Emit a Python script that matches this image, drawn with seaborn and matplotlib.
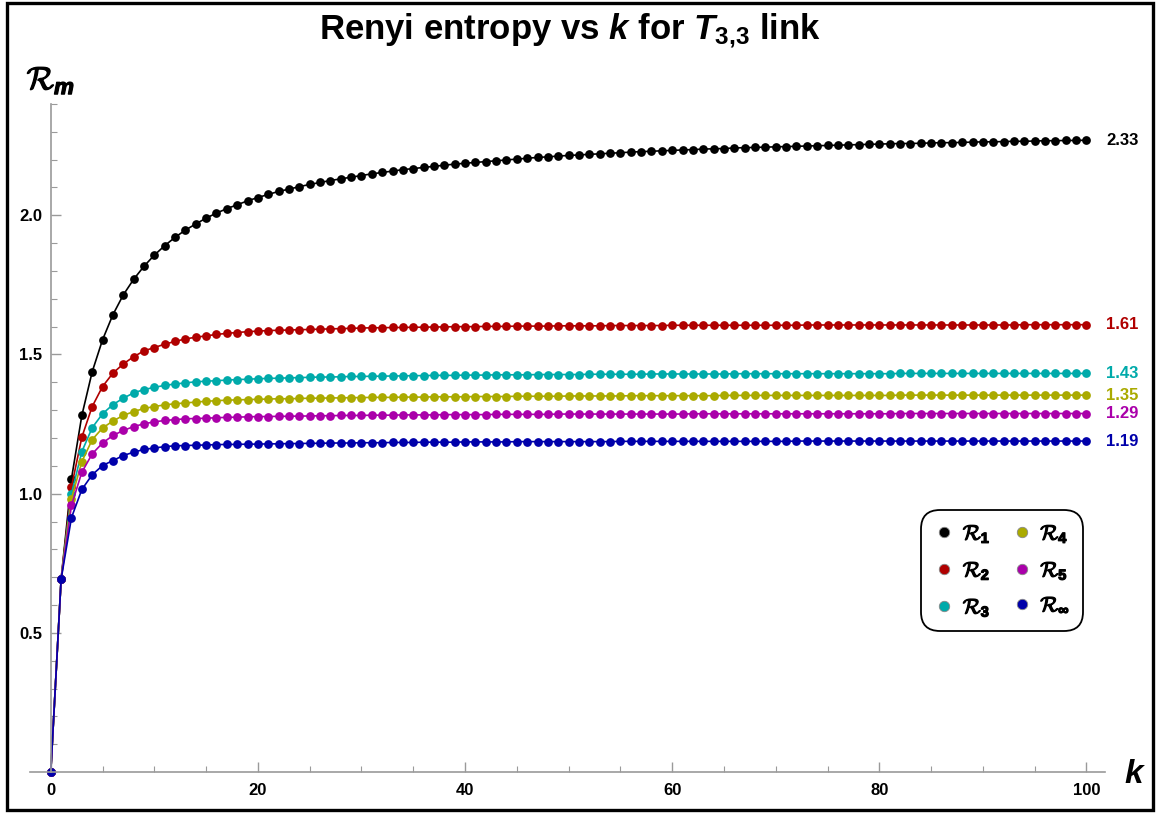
import matplotlib
matplotlib.use('Agg')
import matplotlib.pyplot as plt
import matplotlib.patheffects as pe
import seaborn as sns
import pandas as pd
from matplotlib.lines import Line2D
from matplotlib.patches import Rectangle
from matplotlib.ticker import MultipleLocator

# values, k = 0..100
k_values = list(range(101))

r1 = [0.0, 0.693, 1.054, 1.281, 1.438, 1.553, 1.643, 1.714, 1.770, 1.817,
      1.857, 1.891, 1.921, 1.947, 1.969, 1.990, 2.008, 2.024, 2.038, 2.052,
      2.064, 2.075, 2.086, 2.094, 2.103, 2.111, 2.118, 2.125, 2.131, 2.137,
      2.143, 2.149, 2.154, 2.159, 2.164, 2.168, 2.172, 2.176, 2.180, 2.184,
      2.187, 2.190, 2.193, 2.196, 2.199, 2.202, 2.205, 2.208, 2.210, 2.213,
      2.215, 2.217, 2.219, 2.221, 2.223, 2.225, 2.227, 2.229, 2.230, 2.232,
      2.233, 2.235, 2.236, 2.238, 2.239, 2.240, 2.242, 2.243, 2.244, 2.245,
      2.246, 2.247, 2.248, 2.249, 2.250, 2.251, 2.252, 2.253, 2.254, 2.255,
      2.256, 2.257, 2.258, 2.258, 2.259, 2.260, 2.261, 2.261, 2.262, 2.263,
      2.264, 2.264, 2.265, 2.266, 2.266, 2.267, 2.268, 2.268, 2.269, 2.269,
      2.270]

r2 = [0.0, 0.693, 1.024, 1.203, 1.313, 1.385, 1.433, 1.466, 1.492, 1.513,
      1.525, 1.537, 1.547, 1.556, 1.562, 1.567, 1.572, 1.576, 1.579, 1.582,
      1.584, 1.586, 1.587, 1.588, 1.589, 1.590, 1.591, 1.592, 1.593, 1.594,
      1.595, 1.596, 1.596, 1.597, 1.597, 1.598, 1.598, 1.599, 1.599, 1.600,
      1.600, 1.600, 1.601, 1.601, 1.601, 1.602, 1.602, 1.602, 1.602, 1.603,
      1.603, 1.603, 1.603, 1.603, 1.604, 1.604, 1.604, 1.604, 1.604, 1.604,
      1.605, 1.605, 1.605, 1.605, 1.605, 1.605, 1.605, 1.605, 1.605, 1.605,
      1.605, 1.605, 1.605, 1.606, 1.606, 1.606, 1.606, 1.606, 1.606, 1.606,
      1.606, 1.606, 1.606, 1.606, 1.606, 1.606, 1.606, 1.606, 1.606, 1.606,
      1.606, 1.606, 1.606, 1.606, 1.607, 1.607, 1.607, 1.607, 1.607, 1.607,
      1.607]

r3 = [0.0, 0.693, 1.000, 1.151, 1.237, 1.287, 1.320, 1.343, 1.362, 1.374,
      1.382, 1.389, 1.394, 1.398, 1.402, 1.404, 1.406, 1.408, 1.410, 1.411,
      1.413, 1.414, 1.415, 1.416, 1.417, 1.418, 1.419, 1.419, 1.420, 1.421,
      1.421, 1.422, 1.422, 1.423, 1.423, 1.424, 1.424, 1.425, 1.425, 1.425,
      1.426, 1.426, 1.426, 1.427, 1.427, 1.427, 1.427, 1.428, 1.428, 1.428,
      1.428, 1.428, 1.429, 1.429, 1.429, 1.429, 1.429, 1.429, 1.430, 1.430,
      1.430, 1.430, 1.430, 1.430, 1.430, 1.430, 1.431, 1.431, 1.431, 1.431,
      1.431, 1.431, 1.431, 1.431, 1.431, 1.431, 1.431, 1.431, 1.431, 1.431,
      1.431, 1.431, 1.432, 1.432, 1.432, 1.432, 1.432, 1.432, 1.432, 1.432,
      1.432, 1.432, 1.432, 1.432, 1.432, 1.432, 1.432, 1.432, 1.432, 1.432,
      1.432]

r4 = [0.0, 0.693, 0.982, 1.115, 1.194, 1.236, 1.261, 1.281, 1.295, 1.306,
      1.313, 1.319, 1.323, 1.326, 1.329, 1.332, 1.334, 1.336, 1.337, 1.338,
      1.339, 1.340, 1.341, 1.341, 1.342, 1.343, 1.343, 1.344, 1.344, 1.345,
      1.345, 1.346, 1.346, 1.346, 1.347, 1.347, 1.347, 1.348, 1.348, 1.348,
      1.348, 1.349, 1.349, 1.349, 1.349, 1.350, 1.350, 1.350, 1.350, 1.350,
      1.351, 1.351, 1.351, 1.351, 1.351, 1.351, 1.352, 1.352, 1.352, 1.352,
      1.352, 1.352, 1.352, 1.352, 1.352, 1.353, 1.353, 1.353, 1.353, 1.353,
      1.353, 1.353, 1.353, 1.353, 1.353, 1.353, 1.353, 1.353, 1.353, 1.353,
      1.353, 1.353, 1.354, 1.354, 1.354, 1.354, 1.354, 1.354, 1.354, 1.354,
      1.354, 1.354, 1.354, 1.354, 1.354, 1.354, 1.354, 1.354, 1.354, 1.354,
      1.354]

r5 = [0.0, 0.693, 0.958, 1.077, 1.143, 1.182, 1.209, 1.227, 1.241, 1.251,
      1.258, 1.263, 1.266, 1.269, 1.270, 1.271, 1.273, 1.274, 1.275, 1.276,
      1.277, 1.277, 1.278, 1.278, 1.279, 1.279, 1.280, 1.280, 1.281, 1.281,
      1.281, 1.282, 1.282, 1.282, 1.283, 1.283, 1.283, 1.283, 1.284, 1.284,
      1.284, 1.284, 1.284, 1.285, 1.285, 1.285, 1.285, 1.285, 1.285, 1.286,
      1.286, 1.286, 1.286, 1.286, 1.286, 1.286, 1.286, 1.286, 1.286, 1.286,
      1.286, 1.286, 1.287, 1.287, 1.287, 1.287, 1.287, 1.287, 1.287, 1.287,
      1.287, 1.287, 1.287, 1.287, 1.287, 1.287, 1.287, 1.287, 1.287, 1.287,
      1.287, 1.287, 1.288, 1.288, 1.288, 1.288, 1.288, 1.288, 1.288, 1.288,
      1.288, 1.288, 1.288, 1.288, 1.288, 1.288, 1.288, 1.288, 1.288, 1.288,
      1.288]

r_inf = [0.0, 0.693, 0.914, 1.015, 1.068, 1.101, 1.119, 1.137, 1.149, 1.159,
         1.164, 1.169, 1.172, 1.173, 1.174, 1.175, 1.176, 1.177, 1.177, 1.178,
         1.178, 1.179, 1.179, 1.180, 1.180, 1.181, 1.181, 1.182, 1.182, 1.182,
         1.183, 1.183, 1.183, 1.184, 1.184, 1.184, 1.185, 1.185, 1.185, 1.185,
         1.186, 1.186, 1.186, 1.186, 1.186, 1.187, 1.187, 1.187, 1.187, 1.187,
         1.187, 1.187, 1.187, 1.187, 1.187, 1.188, 1.188, 1.188, 1.188, 1.188,
         1.188, 1.188, 1.188, 1.188, 1.188, 1.188, 1.188, 1.188, 1.188, 1.188,
         1.188, 1.188, 1.189, 1.189, 1.189, 1.189, 1.189, 1.189, 1.189, 1.189,
         1.189, 1.189, 1.189, 1.189, 1.189, 1.189, 1.189, 1.189, 1.189, 1.189,
         1.189, 1.189, 1.189, 1.189, 1.189, 1.189, 1.189, 1.189, 1.189, 1.189,
         1.189]

series_names = ['R1', 'R2', 'R3', 'R4', 'R5', 'Rinf']
legend_labels = [r'$\mathcal{R}_{1}$', r'$\mathcal{R}_{2}$', r'$\mathcal{R}_{3}$',
                 r'$\mathcal{R}_{4}$', r'$\mathcal{R}_{5}$', r'$\mathcal{R}_{\infty}$']
end_labels = ['2.33', '1.61', '1.43', '1.35', '1.29', '1.19']
colors = ['#000000', '#b00000', '#00aaaa', '#aaaa00', '#aa00aa', '#0000aa']

sns.set_style('white')
plt.rcParams['font.family'] = ['Liberation Sans', 'DejaVu Sans']
plt.rcParams['text.color'] = 'black'
plt.rcParams['mathtext.fontset'] = 'custom'
plt.rcParams['mathtext.rm'] = 'Liberation Sans:bold'
plt.rcParams['mathtext.bf'] = 'Liberation Sans:bold'
plt.rcParams['mathtext.it'] = 'Liberation Sans:italic:bold'
plt.rcParams['mathtext.cal'] = 'cmsy10'

all_series = [r1, r2, r3, r4, r5, r_inf]
df = pd.DataFrame({
    'k': k_values * len(all_series),
    'value': [v for s in all_series for v in s],
    'series': [n for n in series_names for _ in k_values],
})

fig = plt.figure(figsize=(11.56, 8.13), dpi=100)
ax = fig.add_axes([0.026, 0.0504, 0.930, 0.8217])

sns.lineplot(data=df, x='k', y='value', hue='series', hue_order=series_names,
             palette=colors, marker='o', markersize=6.3, markeredgewidth=0,
             linewidth=1.2, legend=False, sort=False, clip_on=False, ax=ax)

ax.set_xlim(-2, 101.8)
ax.set_ylim(0, 2.4)
for side in ['top', 'right']:
    ax.spines[side].set_visible(False)
ax.spines['left'].set_position(('data', 0))
ax.spines['bottom'].set_position(('data', 0))
for side in ['left', 'bottom']:
    ax.spines[side].set_color('#9a9a9a')
    ax.spines[side].set_linewidth(1.2)

ax.set_xticks([0, 20, 40, 60, 80, 100])
ax.set_yticks([0.5, 1.0, 1.5, 2.0])
ax.set_yticklabels(['0.5', '1.0', '1.5', '2.0'])
ax.xaxis.set_minor_locator(MultipleLocator(5))
ax.yaxis.set_minor_locator(MultipleLocator(0.1))
ax.tick_params(which='both', bottom=True, left=True, top=False, right=False)
ax.tick_params(which='major', direction='in', length=7, width=1, color='#9a9a9a',
               labelsize=12, labelcolor='black')
ax.tick_params(which='minor', direction='in', length=4, width=0.8, color='#9a9a9a')
ax.tick_params(axis='x', which='major', pad=8)
ax.tick_params(axis='y', which='major', pad=6)
plt.setp(ax.get_xticklabels() + ax.get_yticklabels(), fontweight='bold')
ax.set_xlabel('')
ax.set_ylabel('')

for s, lab, c in zip(all_series, end_labels, colors):
    ax.text(101.9, s[-1], lab, color=c, fontsize=12, fontweight='bold',
            ha='left', va='center')

thick = [pe.withStroke(linewidth=0.9, foreground='black')]

handles = [Line2D([], [], ls='', marker='o', markersize=7.5, color=c,
                  markeredgecolor='#888888', markeredgewidth=0.6) for c in colors]
leg = ax.legend(handles, legend_labels, ncol=2, loc='upper right',
                bbox_to_anchor=(0.979, 0.392), borderaxespad=0, fontsize=15,
                frameon=True, fancybox=True, edgecolor='black', framealpha=1,
                handletextpad=0.4, columnspacing=1.0, labelspacing=0.7,
                borderpad=0.6, handlelength=1.0)
leg.get_frame().set_linewidth(1.3)
leg.get_frame().set_boxstyle('round,pad=0,rounding_size=0.9')
for t in leg.get_texts():
    t.set_path_effects(thick)

fig.text(0.4927, 0.962, r'Renyi entropy vs $k$ for $T_{3{,}3}$ link',
         ha='center', va='center', fontsize=25, fontweight='bold', color='black')
fig.text(0.044, 0.9, r'$\mathcal{R}_{m}$', ha='center', va='center', fontsize=23,
         path_effects=thick)
fig.text(0.982, 0.047, r'$k$', ha='center', va='center', fontsize=24)

fig.add_artist(Rectangle((0.006, 0.004), 0.9914, 0.992, transform=fig.transFigure,
                         fill=False, edgecolor='black', linewidth=2.4))

fig.savefig('out.png', dpi=100)
